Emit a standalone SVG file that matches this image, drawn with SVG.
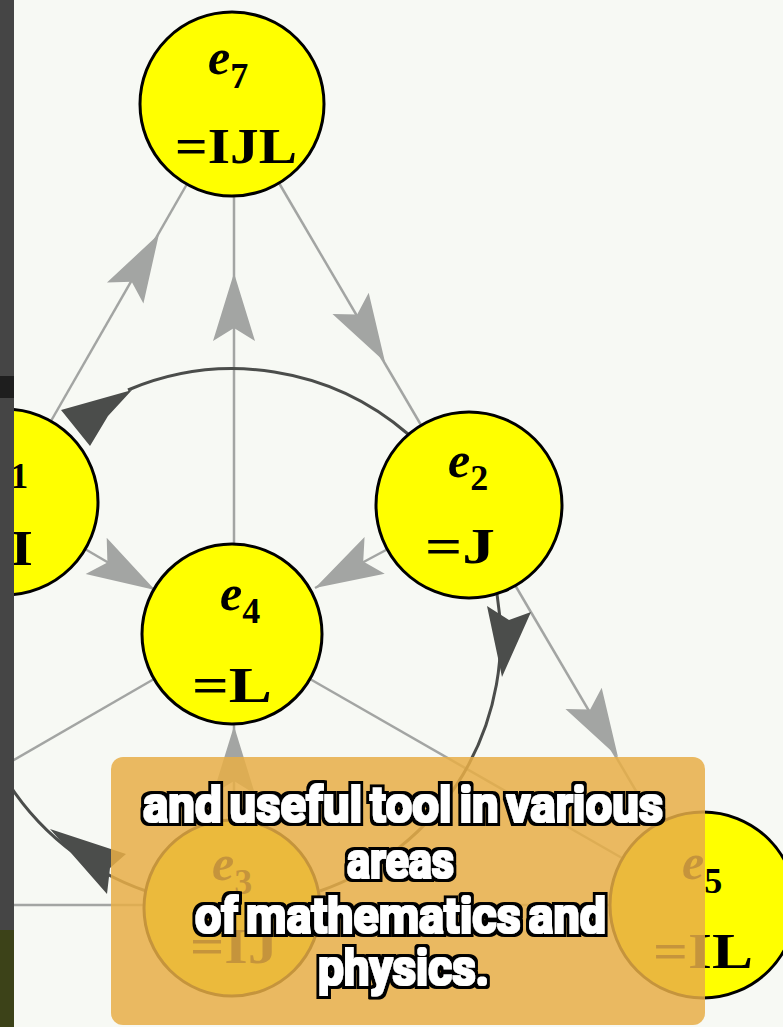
<svg xmlns="http://www.w3.org/2000/svg" xmlns:xlink="http://www.w3.org/1999/xlink" width="783" height="1027" viewBox="0 0 783 1027">
<style>
.bg{fill:#f7f9f4}
.le{stroke:#a3a5a3;stroke-width:2.5;fill:none}
.de{stroke:#4b4d4b;stroke-width:3;fill:none}
.la{fill:#a3a5a3}
.da{fill:#4b4d4b}
.node{fill:#ffff00;stroke:#000;stroke-width:3}
.lbl{font-family:"Liberation Serif","Times New Roman",serif;font-weight:bold;fill:#000}
.ev{font-style:italic;font-size:50px}
.sub{font-size:36px;font-style:normal}
.eq{font-size:50px}
.cap{font-family:Roboto,"Liberation Sans",sans-serif;font-weight:bold;font-size:50px;word-spacing:-4px;fill:#fff;filter:url(#outl)}
</style>
<defs>
<path id="ah" d="M0,0 L-68,-21 L-55,0 L-68,21 Z"/>
<filter id="outl" x="-5%" y="-25%" width="110%" height="150%">
<feMorphology in="SourceAlpha" operator="dilate" radius="1.2" result="thin"/>
<feMorphology in="SourceAlpha" operator="dilate" radius="4.2" result="thick"/>
<feFlood flood-color="#000000"/>
<feComposite in2="thick" operator="in" result="blk"/>
<feFlood flood-color="#ffffff"/>
<feComposite in2="thin" operator="in" result="wht"/>
<feMerge><feMergeNode in="blk"/><feMergeNode in="wht"/></feMerge>
</filter>
</defs>
<rect class="bg" x="0" y="0" width="783" height="1027"/>
<g id="connectors">
<line class="le" x1="51" y1="421" x2="187" y2="184"/>
<use xlink:href="#ah" class="la" transform="translate(159,234) rotate(-60.2)"/>
<line class="le" x1="234" y1="544" x2="234" y2="196"/>
<use xlink:href="#ah" class="la" transform="translate(234,273) rotate(-90)"/>
<line class="le" x1="279" y1="183" x2="421" y2="425"/>
<use xlink:href="#ah" class="la" transform="translate(385,362) rotate(59.6)"/>
<line class="le" x1="386" y1="550" x2="315" y2="588"/>
<use xlink:href="#ah" class="la" transform="translate(315,588) rotate(151.3)"/>
<line class="le" x1="85" y1="549" x2="155" y2="590"/>
<use xlink:href="#ah" class="la" transform="translate(155,590) rotate(30.1)"/>
<line class="le" x1="154" y1="679" x2="0" y2="768"/>
<line class="le" x1="310" y1="679" x2="622" y2="858"/>
<line class="le" x1="234" y1="820" x2="234" y2="724"/>
<use xlink:href="#ah" class="la" transform="translate(234,726) rotate(-90)"/>
<line class="le" x1="515" y1="585" x2="656" y2="825"/>
<use xlink:href="#ah" class="la" transform="translate(618,757) rotate(59.6)"/>
<line class="le" x1="0" y1="905" x2="146" y2="905"/>
<line class="le" x1="320" y1="905" x2="612" y2="905"/>
<path class="de" d="M408,434 A268,268 0 0 0 128,390"/>
<path class="da" d="M61,410 L132,390 L108,416 L90,446 Z"/>
<path class="de" d="M497,594 A268,268 0 0 1 320,891"/>
<path class="da" d="M502,677 L487,606 L509,620 L531,612 Z"/>
<path class="de" d="M-30,588 A268,268 0 0 0 146,891"/>
<path class="da" d="M50,829 L126,854 L110,868 L107,894 Z"/>
</g>
<g id="e7">
<circle class="node" cx="232" cy="104" r="92"/>
<text class="lbl" x="208" y="74"><tspan class="ev">e</tspan><tspan class="sub" dy="14">7</tspan></text>
<text class="lbl eq" x="175" y="163" textLength="122" lengthAdjust="spacingAndGlyphs">=IJL</text>
</g>
<g id="e1">
<circle class="node" cx="5" cy="502" r="93"/>
<text class="lbl" x="-12" y="475"><tspan class="ev">e</tspan><tspan class="sub" dy="13">1</tspan></text>
<text class="lbl eq" x="-23" y="565" textLength="56" lengthAdjust="spacingAndGlyphs">=I</text>
</g>
<g id="e2">
<circle class="node" cx="469" cy="505" r="93"/>
<text class="lbl" x="448" y="477"><tspan class="ev">e</tspan><tspan class="sub" dy="13">2</tspan></text>
<text class="lbl eq" x="425" y="563" textLength="70" lengthAdjust="spacingAndGlyphs">=J</text>
</g>
<g id="e4">
<circle class="node" cx="232" cy="634" r="90"/>
<text class="lbl" x="220" y="610"><tspan class="ev">e</tspan><tspan class="sub" dy="13">4</tspan></text>
<text class="lbl eq" x="192" y="702" textLength="80" lengthAdjust="spacingAndGlyphs">=L</text>
</g>
<g id="e3">
<circle class="node" cx="232" cy="908" r="88"/>
<text class="lbl" x="212" y="880"><tspan class="ev">e</tspan><tspan class="sub" dy="14">3</tspan></text>
<text class="lbl eq" x="190" y="963" textLength="88" lengthAdjust="spacingAndGlyphs">=IJ</text>
</g>
<g id="e5">
<circle class="node" cx="703" cy="905" r="93"/>
<text class="lbl" x="682" y="879"><tspan class="ev">e</tspan><tspan class="sub" dy="14">5</tspan></text>
<text class="lbl eq" x="653" y="968" textLength="100" lengthAdjust="spacingAndGlyphs">=IL</text>
</g>
<g id="caption">
<rect x="111" y="757" width="594" height="268" rx="12" fill="#e8ae47" fill-opacity="0.85"/>
<text class="cap" x="143" y="822" textLength="520" lengthAdjust="spacingAndGlyphs">and useful tool in various</text>
<text class="cap" x="347" y="878" textLength="107" lengthAdjust="spacingAndGlyphs">areas</text>
<text class="cap" x="195" y="933" textLength="411" lengthAdjust="spacingAndGlyphs">of mathematics and</text>
<text class="cap" x="318" y="985" textLength="171" lengthAdjust="spacingAndGlyphs">physics.</text>
</g>
<g id="sidebar">
<rect x="0" y="0" width="14" height="1027" fill="#454545"/>
<rect x="0" y="376" width="14" height="22" fill="#1e1e1e"/>
<rect x="0" y="930" width="14" height="97" fill="#3c4218"/>
</g>
</svg>
